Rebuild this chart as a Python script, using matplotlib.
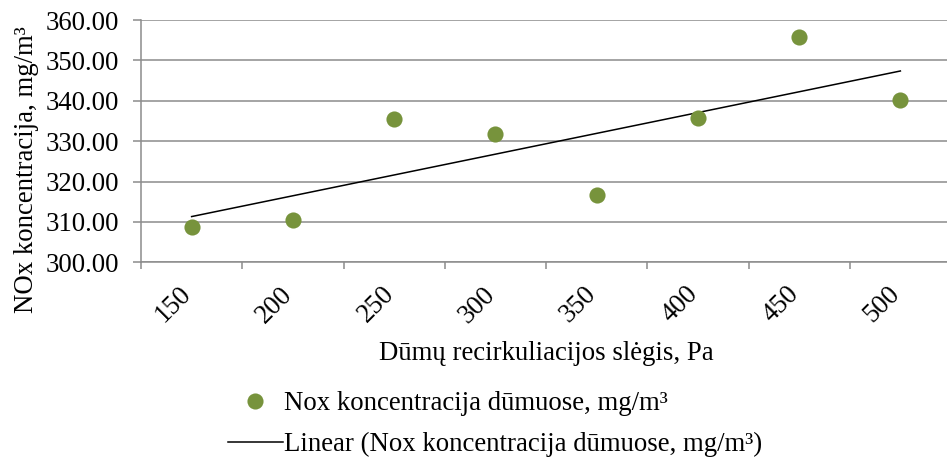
import numpy as np
import matplotlib.pyplot as plt
from matplotlib.lines import Line2D
import matplotlib.transforms as mtransforms

plt.rcParams['font.family'] = ['Liberation Serif', 'DejaVu Serif']

# recirculation pressure categories and measured NOx values
pressure_labels = ['150', '200', '250', '300', '350', '400', '450', '500']
nox_values = [308.8, 310.4, 335.5, 331.7, 316.6, 335.8, 355.8, 340.2]
y_ticks = [300, 310, 320, 330, 340, 350, 360]

green = '#77933C'
grid_gray = '#8C8C8C'
fs = 19.3

fig = plt.figure(figsize=(9.47, 4.61), dpi=100)
ax = fig.add_axes([141 / 947, 1 - 262.3 / 461, 810 / 947, 242.3 / 461])

x = np.arange(1, len(nox_values) + 1)
ax.scatter(x, nox_values, s=135, color=green, zorder=3, linewidths=0)

# linear trendline over category index
k, b = np.polyfit(x, nox_values, 1)
ax.plot([x[0], x[-1]], [k * x[0] + b, k * x[-1] + b], color='black', lw=1.1, zorder=2)

ax.set_xlim(0.5, len(nox_values) + 0.5)
ax.set_ylim(300, 360)
ax.set_yticks(y_ticks)
ax.set_yticklabels([f'{v:.2f}' for v in y_ticks], fontsize=fs)
ax.yaxis.grid(True, color=grid_gray, lw=1.1)
ax.set_axisbelow(True)

ax.set_xticks(x)
ax.set_xticklabels(pressure_labels, fontsize=fs, rotation=45, ha='right', va='top')
ax.set_xticks(np.arange(0.5, len(nox_values) + 1), minor=True)
ax.tick_params(axis='x', which='major', length=0, pad=14)
ax.tick_params(axis='x', which='minor', length=5, color=grid_gray, width=1.1)
ax.tick_params(axis='y', length=6, color=grid_gray, width=1.1, pad=10)
shift = mtransforms.ScaledTranslation(5 / 100, 0, fig.dpi_scale_trans)
for lbl in ax.get_xticklabels():
    lbl.set_transform(lbl.get_transform() + shift)

for side in ['top', 'right']:
    ax.spines[side].set_visible(False)
for side in ['left', 'bottom']:
    ax.spines[side].set_color(grid_gray)
    ax.spines[side].set_linewidth(1.1)

fig.text(27 / 947, 1 - 170 / 461, 'NOx koncentracija, mg/m³', fontsize=fs,
         rotation=90, ha='center', va='center')
fig.text(546 / 947, 1 - 353 / 461, 'Dūmų recirkuliacijos slėgis, Pa',
         fontsize=fs, ha='center', va='center')

handles = [
    Line2D([], [], marker='o', ls='none', color=green, markersize=11.6, markeredgewidth=0),
    Line2D([], [], color='black', lw=1.1),
]
labels = ['Nox koncentracija dūmuose, mg/m³', 'Linear (Nox koncentracija dūmuose, mg/m³)']
fig.legend(handles, labels, loc='upper left', bbox_to_anchor=(228 / 947, 1 - 391 / 461),
           frameon=False, fontsize=fs, handlelength=2.05, handletextpad=0.05,
           labelspacing=0.6, borderpad=0, borderaxespad=0)

fig.savefig('out.png', dpi=100)
